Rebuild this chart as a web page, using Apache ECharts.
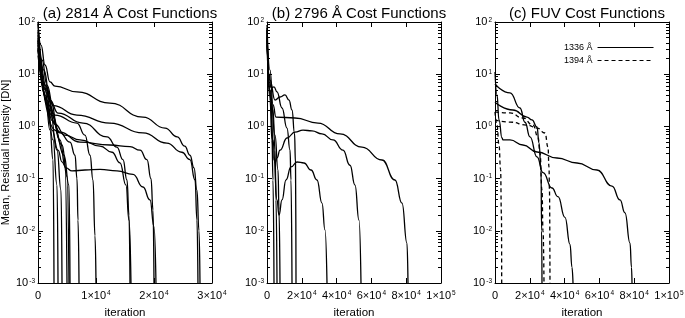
<!DOCTYPE html>
<html>
<head>
<meta charset="utf-8">
<script src="https://cdn.jsdelivr.net/npm/echarts@6/dist/echarts.min.js"></script>
<style>
  html, body { margin: 0; padding: 0; background: #fff; }
  #chart { width: 685px; height: 318px; }
</style>
</head>
<body>
<div id="chart"></div>
<script>
const titles = ['(a) 2814 Å Cost Functions', '(b) 2796 Å Cost Functions', '(c) FUV Cost Functions'];
const xMax = [3e4, 1e5, 1e5];
const xStep = [1e4, 2e4, 2e4];
const yTicks = [1e-3, 1e-2, 1e-1, 1, 10, 100];
const legendNames = ['1336 Å', '1394 Å'];

// (a) 2814 A: [iteration, mean residual]
const a1 = [[0,92],[520,36],[1210,15],[2070,7.1],[2930,5.9],[6720,4.6],[12400,2.8],[18100,1.5],[21900,0.93],[24000,0.63],[25300,0.42],[26200,0.28],[26900,0.16],[27400,0.06],[27760,0.01],[27930,0.001]];
const a2 = [[0,64],[690,18.7],[1550,6.2],[2590,2.5],[6720,1.65],[12400,1.16],[18100,0.75],[22200,0.48],[24800,0.32],[26200,0.23],[27070,0.094],[27410,0.016],[27580,0.001]];
const a3 = [[0,49],[1030,12],[2070,3.2],[3450,1.8],[7760,1.16],[11900,0.63],[13600,0.40],[14650,0.23],[15340,0.094],[15690,0.02],[15860,0.001]];
const a4 = [[0,45],[1380,5],[2930,1.1],[4650,0.68],[7240,0.55],[10690,0.42],[12760,0.32],[14140,0.2],[15170,0.075],[15690,0.016],[16030,0.001]];
const a5 = [[0,40],[1210,6.2],[2410,1.3],[3790,0.78],[7240,0.5],[12410,0.44],[15860,0.41],[17590,0.35],[18790,0.23],[19480,0.1],[19830,0.025],[20000,0.001]];
const a6 = [[0,32],[1210,4],[2410,0.85],[3450,0.35],[4140,0.21],[4830,0.16],[5860,0.14],[8100,0.146],[10690,0.15],[13620,0.14],[16380,0.12],[18100,0.069],[19310,0.039],[20000,0.012],[20340,0.001]];
const a7 = [[0,56],[1210,6.2],[2930,1.65],[6720,1.16],[8100,0.68],[8970,0.28],[9480,0.094],[9830,0.008],[10000,0.001]];
const a8 = [[0,44],[1720,2.6],[3790,0.75],[5520,0.5],[6380,0.28],[6720,0.1],[6900,0.016],[7070,0.001]];
const a9 = [[0,100],[1210,5],[2070,0.85],[2590,0.23],[2760,0.001]];
const a10 = [[0,36],[1550,3.2],[2590,0.55],[3280,0.075],[3450,0.001]];
const a11 = [[0,30],[2070,2.06],[3280,0.35],[3970,0.06],[4140,0.001]];
const a12 = [[0,70],[2070,3.2],[3790,0.55],[4650,0.18],[5000,0.001]];
const a13 = [[0,23],[2410,1.65],[4140,0.44],[5000,0.11],[5340,0.001]];
const a14 = [[0,29],[2930,0.85],[4480,0.28],[5340,0.075],[5520,0.001]];

// (b) 2796 A
const b1 = [[0,88],[1720,12],[3450,2.6],[5170,1.51],[16090,1.45],[29310,1.16],[41950,0.72],[54600,0.40],[66090,0.227],[73560,0.094],[77580,0.034],[80460,0.0058],[81030,0.001]];
const b2 = [[0,70],[1720,5],[3450,0.55],[4600,0.2],[5750,0.25],[7470,0.35],[11490,0.6],[16090,0.78],[20690,0.85],[25860,0.82],[31610,0.72],[37930,0.55],[43680,0.35],[47700,0.18],[50570,0.075],[52870,0.016],[54020,0.001]];
const b3 = [[0,77],[1720,4],[4020,0.227],[5750,0.039],[6900,0.02],[8620,0.039],[10920,0.094],[13790,0.167],[17240,0.208],[21260,0.199],[25290,0.146],[28740,0.094],[31610,0.034],[33330,0.0104],[34480,0.001]];
const b4 = [[0,56],[1150,10],[2300,5.5],[4020,5.7],[5750,4.6],[8620,2.25],[11490,0.93],[13220,0.353],[13790,0.094],[14370,0.001]];
const b5 = [[0,45],[1720,7.7],[4600,3.2],[7470,3.66],[10340,4.0],[12640,3.2],[14370,2.06],[15800,0.75],[16380,0.2],[16670,0.001]];
const b6 = [[0,70],[1720,3.2],[2870,0.55],[3450,0.094],[4020,0.001]];
const b7 = [[0,36],[1720,5],[3450,2.06],[4600,0.353],[5170,0.039],[5750,0.001]];
const b8 = [[0,49],[2300,3.2],[4600,0.68],[6320,0.146],[6900,0.025],[7470,0.001]];

// (c) FUV: solid = 1336, dashed = 1394
const c1 = [[0,6.5],[8620,4.4],[14370,2.25],[17240,1.2],[20110,0.63],[24140,0.26],[27590,0.13],[32760,0.066],[36200,0.045],[40230,0.018],[43100,0.0055],[44250,0.002],[44830,0.001]];
const c2 = [[0,2.9],[10340,2.06],[18390,1.51],[21260,1.33],[24140,0.975],[25290,0.481],[26440,0.146],[26800,0.01],[27010,0.001]];
const c3 = [[0,11],[1150,4],[2300,1.33],[4020,0.6],[4600,0.55],[8620,0.55],[16090,0.44],[24140,0.323],[35630,0.248],[47130,0.199],[58620,0.146],[67240,0.072],[71840,0.039],[74710,0.022],[77590,0.0058],[78450,0.002],[78740,0.001]];
const d1 = [[0,1.89],[8620,1.81],[16090,1.45],[21840,1.06],[24710,0.627],[25860,0.309],[27010,0.0605],[27590,0.01],[28160,0.001]];
const d2 = [[0,1.33],[8620,1.21],[18390,1.06],[24140,0.93],[28740,0.748],[30460,0.403],[31030,0.167],[31300,0.06],[31600,0.001]];
const d3 = [[0,1.9],[1150,1.06],[2300,0.44],[3200,0.15],[3700,0.02],[3850,0.001]];

const panelA = [a1, a2, a3, a4, a5, a6, a7, a8, a9, a10, a11, a12, a13, a14];
const panelB = [b1, b2, b3, b4, b5, b6, b7, b8];
const fuvSolid = [c1, c2, c3];
const fuvDashed = [d1, d2, d3];

const font = '"Liberation Sans", Arial, Helvetica, sans-serif';
const gridLeft = [38, 267, 495];
const gridW = 174;
const rich = {
  b: { fontSize: 11, fontFamily: font, color: '#000' },
  e: { fontSize: 6.5, fontFamily: font, color: '#000', verticalAlign: 'top', padding: [0, 0, 0, 1] }
};

// minor ticks 2..9 in every decade
const minorTicks = [];
yTicks.slice(0, -1).forEach(d => { for (let k = 2; k <= 9; k++) minorTicks.push(+(d * k).toPrecision(3)); });

function fmtY(v) {
  return '{b|10}{e|' + Math.round(Math.log10(v)) + '}';
}
function fmtX(v) {
  if (v === 0) return '{b|0}';
  const p = Math.floor(Math.log10(v) + 1e-9);
  const m = Math.round(v / Math.pow(10, p));
  return '{b|' + m + '×10}{e|' + p + '}';
}

const grids = [], xAxes = [], yAxes = [], series = [], titleList = [];
for (let i = 0; i < 3; i++) {
  grids.push({ left: gridLeft[i], top: 22, width: gridW, height: 261, outerBoundsMode: 'none' });
  titleList.push({
    text: titles[i], left: gridLeft[i] + gridW / 2, top: 1, textAlign: 'center',
    textStyle: { fontSize: 15, fontWeight: 'normal', color: '#000', fontFamily: font }
  });
  const xBase = {
    type: 'value', gridIndex: i, min: 0, max: xMax[i], interval: xStep[i],
    splitLine: { show: false },
    axisLine: { onZero: false, lineStyle: { color: '#000', width: 1 } },
    axisTick: { inside: true, length: 5, lineStyle: { color: '#000' } }
  };
  xAxes.push(Object.assign({}, xBase, {
    position: 'bottom', name: 'iteration', nameLocation: 'middle', nameGap: 24,
    nameTextStyle: { fontSize: 11.5, color: '#000', fontFamily: font },
    axisLabel: { margin: 7, formatter: fmtX, rich: rich }
  }));
  xAxes.push(Object.assign({}, xBase, { position: 'top', axisLabel: { show: false } }));

  const yBase = {
    type: 'log', logBase: 10, gridIndex: i, min: 1e-3, max: 100,
    splitLine: { show: false }, minorTick: { show: false },
    axisLine: { show: true, onZero: false, lineStyle: { color: '#000', width: 1 } },
    axisTick: { inside: true, length: 5, lineStyle: { color: '#000' }, customValues: yTicks }
  };
  const left = Object.assign({}, yBase, {
    position: 'left',
    axisLabel: { margin: 3, formatter: fmtY, rich: rich, customValues: yTicks }
  });
  if (i === 0) {
    Object.assign(left, {
      name: 'Mean, Residual Intensity [DN]', nameLocation: 'middle', nameGap: 27, nameRotate: 90,
      nameTextStyle: { fontSize: 11, color: '#000', fontFamily: font }
    });
  }
  yAxes.push(left);
  yAxes.push(Object.assign({}, yBase, { position: 'right', axisLabel: { show: false } }));
  const minorBase = Object.assign({}, yBase, {
    axisLine: { show: false, onZero: false }, axisLabel: { show: false },
    axisTick: { inside: true, length: 3, lineStyle: { color: '#000' }, customValues: minorTicks }
  });
  yAxes.push(Object.assign({}, minorBase, { position: 'left' }));
  yAxes.push(Object.assign({}, minorBase, { position: 'right' }));
}

function addLine(data, gi, name, dashed) {
  series.push({
    type: 'line', name: name, xAxisIndex: 2 * gi, yAxisIndex: 4 * gi, data: data,
    symbol: 'none', showSymbol: false, smooth: 0.5, smoothMonotone: 'x', clip: true, silent: true,
    lineStyle: { color: '#000', width: 1.3, type: dashed ? [4, 3] : 'solid' },
    itemStyle: { color: '#000' }
  });
}
panelA.forEach((d, k) => addLine(d, 0, 'a' + k, false));
panelB.forEach((d, k) => addLine(d, 1, 'b' + k, false));
fuvSolid.forEach(d => addLine(d, 2, legendNames[0], false));
fuvDashed.forEach(d => addLine(d, 2, legendNames[1], true));

const chart = echarts.init(document.getElementById('chart'), null, { renderer: 'canvas' });
chart.setOption({
  animation: false,
  backgroundColor: '#fff',
  title: titleList,
  legend: {
    data: legendNames, left: 559, top: 38, orient: 'vertical', align: 'right',
    itemWidth: 56, itemHeight: 10, itemGap: 4, selectedMode: false,
    itemStyle: { opacity: 0 },
    lineStyle: { width: 1 },
    textStyle: { fontSize: 9, color: '#000', fontFamily: font }
  },
  grid: grids,
  xAxis: xAxes,
  yAxis: yAxes,
  series: series
});
</script>
</body>
</html>
